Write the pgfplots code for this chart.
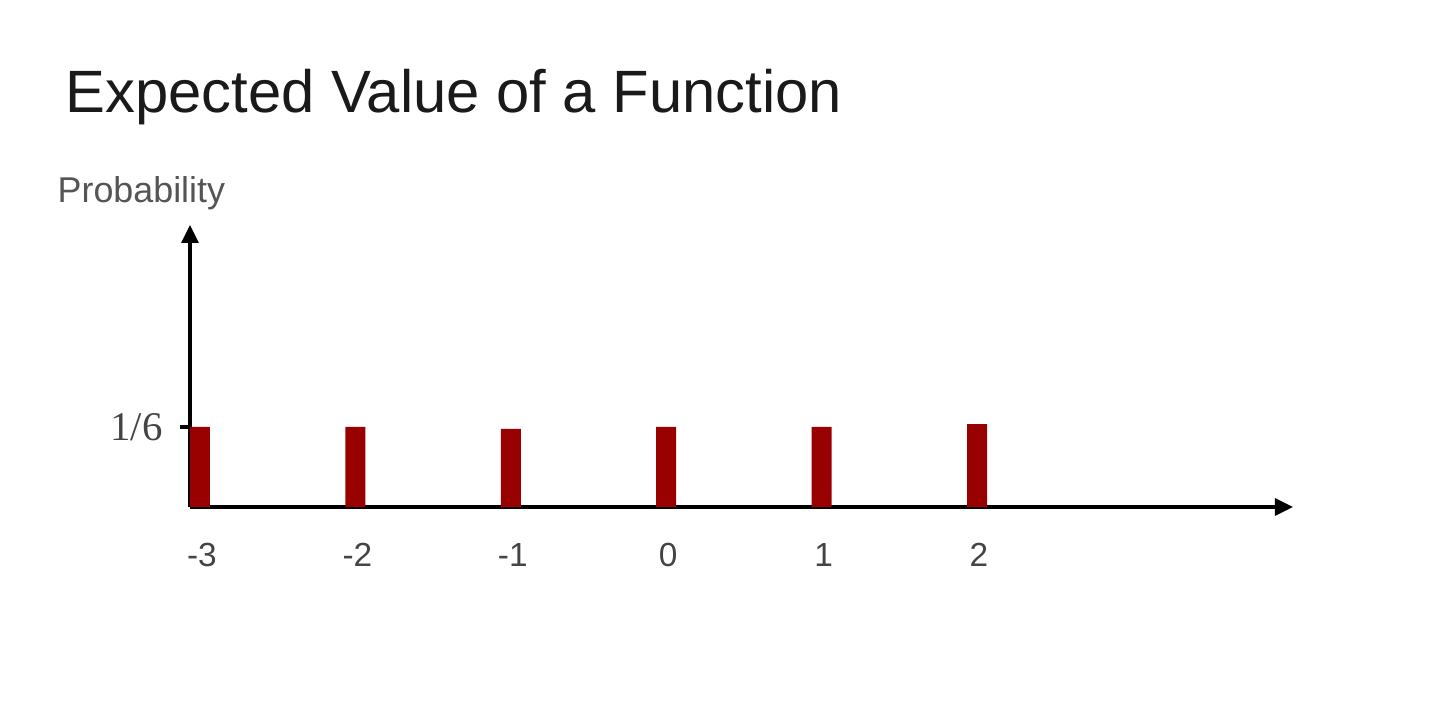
\documentclass[border=0pt]{standalone}
\usepackage{fontspec}
\setmainfont{Liberation Sans}
\newfontfamily\serif{Liberation Serif}
\usepackage{pgfplots}
\pgfplotsset{compat=1.18}
\usetikzlibrary{arrows.meta}
\definecolor{barred}{HTML}{990000}
\definecolor{titlegray}{HTML}{1A1A1A}
\definecolor{labgray}{HTML}{555555}
\definecolor{tickgray}{HTML}{444444}
\begin{document}
\begin{tikzpicture}
\useasboundingbox (0,0) rectangle (144mm,70.7mm);
\node[anchor=base west, inner sep=0pt, text=titlegray, font=\fontsize{17pt}{20pt}\selectfont] at (6.5mm,59.4mm) {Expected Value of a Function};
\node[anchor=base west, inner sep=0pt, text=labgray, font=\fontsize{10.2pt}{12pt}\selectfont] at (5.7mm,50.4mm) {Probability};
\begin{axis}[
    at={(19mm,20mm)}, anchor=south west,
    scale only axis,
    width=110.3mm, height=28.2mm,
    xmin=-3.064, xmax=4.033,
    ymin=0, ymax=0.5875,
    axis lines=left,
    axis line style={line width=0.9pt, -{Triangle[length=1.8mm,width=1.7mm]}},
    ybar, bar width=2mm,
    xtick={-3,-2,-1,0,1,2},
    xticklabels={-3,-2,-1,0,1,2},
    ytick={0.16667},
    yticklabels={1/6},
    x tick style={draw=none},
    y tick style={line width=0.9pt, black},
    tick align=outside,
    major tick length=1mm,
    xticklabel style={anchor=center, yshift=-3.8mm, xshift=0.2mm, text=tickgray, font=\fontsize{9.5pt}{11pt}\selectfont},
    yticklabel style={anchor=east, xshift=-0.5mm, text=tickgray, font=\serif\fontsize{11.6pt}{13pt}\selectfont},
    clip=false,
]
\addplot[fill=barred, draw=none] coordinates {
    (-3,0.1667) (-2,0.1667) (-1,0.1625) (0,0.1667) (1,0.1667) (2,0.1729)
};
\end{axis}
\end{tikzpicture}
\end{document}
